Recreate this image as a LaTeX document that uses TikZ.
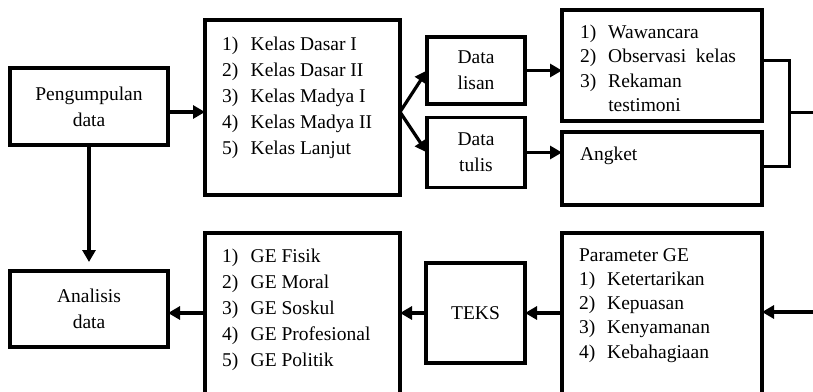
\documentclass[tikz,border=0pt]{standalone}
\usepackage{fontspec}
\setmainfont{Liberation Serif}
\usetikzlibrary{arrows.meta}
\begin{document}
\begin{tikzpicture}[x=1pt,y=-1pt,
  box/.style={draw,line width=3.2pt,inner sep=0pt,outer sep=0pt},
  txt/.style={inner sep=0pt,outer sep=0pt,align=center,font=\fontsize{19.5}{26}\selectfont},
  lst/.style={inner sep=0pt,outer sep=0pt,anchor=base west,font=\fontsize{19.5}{26}\selectfont},
  lstb/.style={inner sep=0pt,outer sep=0pt,anchor=base west,font=\fontsize{19.5}{24.3}\selectfont},
  arr/.style={line width=3.2pt,-{Triangle[length=12pt,width=13pt]}},
  ln/.style={line width=3pt}]
\useasboundingbox (0,0) rectangle (813,391);
\clip (0,0) rectangle (813,391);
% boxes
\node[box,minimum width=158pt,minimum height=77pt] (peng) at (89,106.5) {};
\node[box,minimum width=195pt,minimum height=175pt] (kel) at (302.5,107.5) {};
\node[box,minimum width=98pt,minimum height=67pt] (lis) at (476,70.5) {};
\node[box,minimum width=98pt,minimum height=70pt] (tul) at (476,152.5) {};
\node[box,minimum width=200pt,minimum height=111pt] (waw) at (662,65.5) {};
\node[box,minimum width=200pt,minimum height=73pt] (ang) at (662,168.5) {};
\node[box,minimum width=158pt,minimum height=76pt] (ana) at (89,309) {};
\node[box,minimum width=195pt,minimum height=197pt] (ge) at (302.5,331.5) {};
\node[box,minimum width=99pt,minimum height=100pt] (teks) at (475.5,313) {};
\node[box,minimum width=200pt,minimum height=197pt] (par) at (662,331.5) {};
% texts
\node[txt] (tpeng) at (peng) {Pengumpulan\\data};
\node[txt] (tlis) at (lis) {Data\\lisan};
\node[txt] (ttul) at (tul) {Data\\tulis};
\node[txt] (tana) at (ana) {Analisis\\data};
\node[txt] (tteks) at (teks) {TEKS};
\node[lst] (tkel) at (222,50) {\begin{tabular}[t]{@{}l@{\hspace{12.5pt}}l@{}}
1) & Kelas Dasar I\\ 2) & Kelas Dasar II\\ 3) & Kelas Madya I\\ 4) & Kelas Madya II\\ 5) & Kelas Lanjut\end{tabular}};
\node[lst] (tge) at (222,262) {\begin{tabular}[t]{@{}l@{\hspace{12.5pt}}l@{}}
1) & GE Fisik\\ 2) & GE Moral\\ 3) & GE Soskul\\ 4) & GE Profesional\\ 5) & GE Politik\end{tabular}};
\node[lstb] (twaw) at (580,38.5) {\begin{tabular}[t]{@{}l@{\hspace{12pt}}l@{}}
1) & Wawancara\\ 2) & Observasi\ \ kelas\\ 3) & Rekaman\\ & testimoni\end{tabular}};
\node[lst] (tang) at (580,160) {Angket};
\node[lstb] (tpar) at (579,261) {\begin{tabular}[t]{@{}l@{\hspace{12pt}}l@{}}
\multicolumn{2}{@{}l@{}}{Parameter GE}\\
1) & Ketertarikan\\ 2) & Kepuasan\\ 3) & Kenyamanan\\ 4) & Kebahagiaan\end{tabular}};
% connectors
\coordinate (b) at (400,112);
\draw[arr] (peng.east |- b) -- (kel.west |- b);
\draw[arr] (kel.east |- b) -- (lis.west);
\draw[arr] (kel.east |- b) -- (tul.west);
\draw[arr] (lis.east) -- (waw.west |- lis.east);
\draw[arr] (tul.east) -- (ang.west |- tul.east);
\draw[arr,shorten >=9pt] (peng.south) -- (ana.north);
\coordinate (r1) at (789,60);
\coordinate (r2) at (789,166);
\coordinate (r3) at (789,112);
\coordinate (r4) at (815,112);
\draw[ln] (waw.east |- r1) -- (r1) -- (r2) -- (ang.east |- r2);
\draw[ln] (r3) -- (r4);
\coordinate (inR) at (815,312);
\draw[arr] (inR) -- (par.east |- inR);
\draw[arr] (par.west |- teks.east) -- (teks.east);
\draw[arr] (teks.west) -- (ge.east |- teks.west);
\draw[arr] (ge.west |- teks.west) -- (ana.east |- teks.west);
\end{tikzpicture}
\end{document}
